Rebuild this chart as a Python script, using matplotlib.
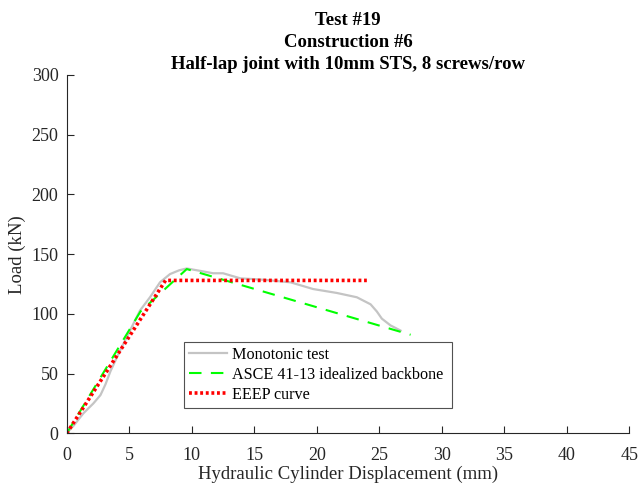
import numpy as np
import matplotlib
matplotlib.use("Agg")
from matplotlib import pyplot as plt

plt.rcParams['font.family'] = ['Liberation Serif', 'DejaVu Serif']

# Monotonic test curve
mono_x = [0, 0.6, 1.33, 2.13, 2.7, 3.1, 3.5, 4.27, 5.06, 5.86, 6.66, 7.46, 8.26,
          9.0, 9.6, 10.67, 11.7, 12.5, 13.9, 15.7, 17.9, 19.7, 21.6, 23.2, 24.3,
          24.8, 25.2, 25.9, 26.7]
mono_y = [0, 7, 16.7, 25, 32, 41, 52, 69.4, 86, 102.8, 113.9, 126.4, 133.3,
          136.5, 138, 136, 134, 134, 129.7, 128.6, 126.4, 120.8, 117.5, 113.9, 108,
          102, 96, 90.3, 86]

# ASCE 41-13 idealized backbone
asce_x = [0, 5.9, 9.6, 27.5]
asce_y = [0, 102, 137.5, 82.5]

# EEEP curve
eeep_x = [0, 7.9, 24.0]
eeep_y = [0, 128, 128]

fig = plt.figure(figsize=(6.39, 4.90), dpi=100)
ax = fig.add_axes([0.1044, 0.1157, 0.8806, 0.7313])

ax.plot(mono_x, mono_y, color='#c4c4c4', lw=1.6, label='Monotonic test')
ax.plot(asce_x, asce_y, color='#00ff00', lw=1.5, ls=(0, (6, 4.5)),
        label='ASCE 41-13 idealized backbone')
ax.plot(eeep_x, eeep_y, color='#ff0000', lw=2.6, ls=(0, (0.8, 0.75)),
        label='EEEP curve')

ax.set_xlim(0, 45)
ax.set_ylim(0, 300)
ax.set_xticks(np.arange(0, 46, 5))
ax.set_yticks(np.arange(0, 301, 50))
ax.spines['top'].set_visible(False)
ax.spines['right'].set_visible(False)
for s in ['left', 'bottom']:
    ax.spines[s].set_color('#262626')
    ax.spines[s].set_linewidth(0.8)
ax.tick_params(direction='in', length=5, width=0.8, colors='#262626',
               labelsize=13)
ax.tick_params(axis='x', pad=10)
ax.tick_params(axis='y', pad=6)

ax.set_xlabel('Hydraulic Cylinder Displacement (mm)', fontsize=13.5,
              color='#262626', labelpad=1)
ax.set_ylabel('Load (kN)', fontsize=13.5, color='#262626')
ax.set_title('Test #19\nConstruction #6\nHalf-lap joint with 10mm STS, 8 screws/row',
             fontsize=13.5, fontweight='bold', linespacing=1.4, pad=4)

leg = ax.legend(loc='lower left', bbox_to_anchor=(0.209, 0.0714, 0.4753, 0.18),
                mode='expand', fontsize=11.6, frameon=True, fancybox=False,
                borderaxespad=0, handlelength=2.35, handletextpad=0.3,
                labelspacing=0.25, borderpad=0.3)
leg.get_frame().set_edgecolor('#262626')
leg.get_frame().set_linewidth(0.8)

fig.savefig('out.png', dpi=100)
